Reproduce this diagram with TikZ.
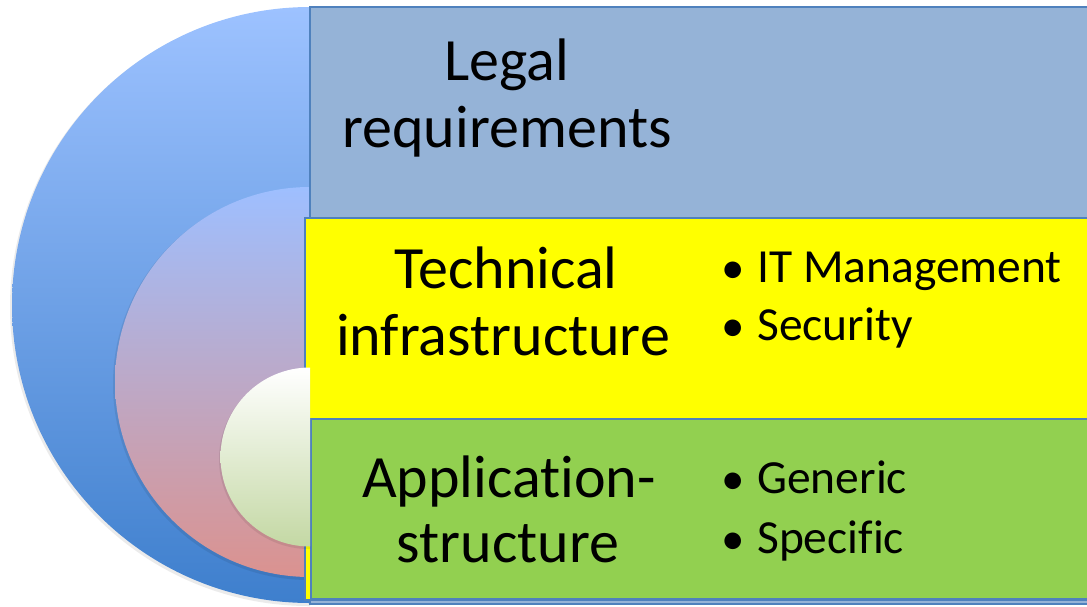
\documentclass[tikz,border=0pt]{standalone}
\usepackage{fontspec}
\setmainfont{Carlito}[Ligatures=NoCommon]
\begin{document}
\begin{tikzpicture}[x=1pt,y=-1pt,
  title/.style={anchor=base,inner sep=0pt,font=\fontsize{60}{67}\selectfont},
  item/.style={anchor=base west,inner sep=0pt,font=\fontsize{47.5}{58}\selectfont},
  bul/.style={anchor=base,inner sep=0pt,font=\fontsize{47}{58}\selectfont},
  band/.style={draw=edgeblue,line width=1.5pt}]
\definecolor{edgeblue}{RGB}{79,129,189}
\definecolor{legalblue}{RGB}{149,179,215}
\definecolor{techyellow}{RGB}{255,255,0}
\definecolor{appgreen}{RGB}{146,208,80}
\definecolor{outtop}{RGB}{157,194,255}
\definecolor{outbot}{RGB}{62,127,205}
\definecolor{midtop}{RGB}{158,191,255}
\definecolor{midmid}{RGB}{190,168,204}
\definecolor{midbot}{RGB}{219,146,143}
\definecolor{intop}{RGB}{255,255,255}
\definecolor{inbot}{RGB}{196,216,164}
\useasboundingbox (0,0) rectangle (1087,606);
\clip (0,0) rectangle (1087,606);
% disks (left halves)
\begin{scope}
  \clip (0,0) rectangle (310,606);
  \fill[black,opacity=0.08] (309,307) circle[radius=299pt];
  \shade[top color=outtop,bottom color=outbot] (310,305) circle[radius=298pt];
  \fill[black,opacity=0.08] (309,384) circle[radius=196pt];
  \shade[top color=midtop,middle color=midmid,bottom color=midbot] (310,382) circle[radius=195pt];
\end{scope}
% bands
\path[band,fill=legalblue] (310,7) rectangle (1100,604);
\path[band,fill=techyellow] (305,218) rectangle (1100,600);
\path[band,fill=appgreen] (311,419) rectangle (1100,599);
% inner disk
\begin{scope}
  \clip (0,0) rectangle (310,606);
  \fill[black,opacity=0.08] (309,459) circle[radius=90pt];
  \shade[top color=intop,bottom color=inbot] (310,457) circle[radius=89.5pt];
\end{scope}
% titles
\node[title] (legal1) at (507,80) {Legal};
\node[title] (legal2) at (507,147) {requirements};
\node[title] (tech1) at (506,288) {Technical};
\node[title] (tech2) at (503,355) {infrastructure};
\node[title] (app1) at (509,497) {Application-};
\node[title] (app2) at (508,562) {structure};
% bullets
\node[bul] (b1) at (733,283) {•};
\node[item] (i1) at (757,282) {IT Management};
\node[bul] (b2) at (733,341) {•};
\node[item] (i2) at (757,340) {Security};
\node[bul] (b3) at (733,494) {•};
\node[item] (i3) at (757,493) {Generic};
\node[bul] (b4) at (733,554) {•};
\node[item] (i4) at (757,553) {Specific};
\end{tikzpicture}
\end{document}
